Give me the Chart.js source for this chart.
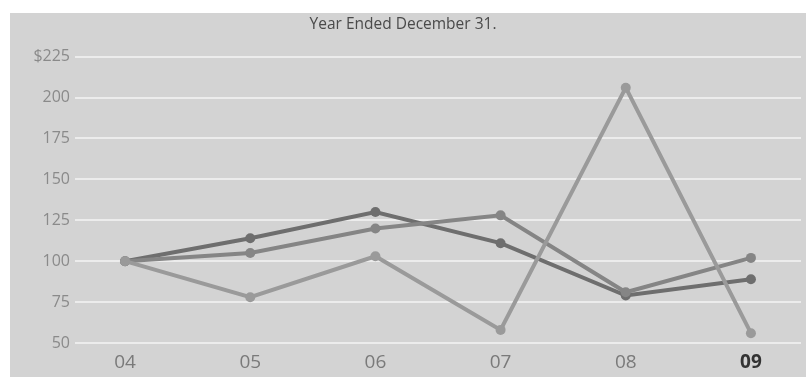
<!DOCTYPE html>
<html>
<head>
<meta charset="utf-8">
<script src="https://cdn.jsdelivr.net/npm/chart.js@4/dist/chart.umd.min.js"></script>
<style>
    body { margin: 0; background: #fff; }
    #bg { position: absolute; left: 10px; top: 13px; width: 796px; height: 364px; background: #d3d3d3; }
    #wrap { position: absolute; left: 0; top: 0; width: 806px; height: 377px; }
</style>
</head>
<body>
<div id="bg"></div>
<div id="wrap"><canvas id="chart"></canvas></div>
<script>
const years = ['04', '05', '06', '07', '08', '09'];
const seriesA = [100, 114, 130, 111, 79, 89];
const seriesB = [100, 105, 120, 128, 81, 102];
const seriesC = [100, 78, 103, 58, 206, 56];
const yTicks = [50, 75, 100, 125, 150, 175, 200, 225];

const toPoints = values => values.map((v, i) => ({ x: i, y: v }));

function lineSet(values, color) {
    return {
        data: toPoints(values),
        borderColor: color,
        backgroundColor: color,
        borderWidth: 4,
        pointRadius: 5,
        pointBorderWidth: 0,
        tension: 0
    };
}

new Chart(document.getElementById('chart'), {
    type: 'line',
    data: {
        datasets: [
            lineSet(seriesC, '#9a9a9a'),
            lineSet(seriesB, '#858585'),
            lineSet(seriesA, '#6e6e6e')
        ]
    },
    options: {
        responsive: true,
        maintainAspectRatio: false,
        animation: false,
        layout: { padding: 0 },
        plugins: {
            legend: { display: false },
            tooltip: { enabled: false },
            title: {
                display: true,
                text: 'Year Ended December 31.',
                color: '#4a4a4a',
                font: { family: 'Open Sans', size: 15.5, weight: 'normal' },
                padding: { top: 15, bottom: 23 }
            }
        },
        scales: {
            x: {
                type: 'linear',
                min: -0.4,
                max: 5.4,
                afterBuildTicks: axis => { axis.ticks = years.map((y, i) => ({ value: i })); },
                afterFit: axis => { axis.height = 34; },
                border: { display: false },
                grid: { display: false, drawTicks: false },
                ticks: {
                    padding: 8,
                    callback: v => years[v],
                    color: ctx => ctx.index === 5 ? '#333' : '#7a7a7a',
                    font: ctx => ({
                        family: 'Open Sans',
                        size: 19,
                        weight: ctx.index === 5 ? 'bold' : 'normal'
                    })
                }
            },
            y: {
                min: 50,
                max: 225,
                afterBuildTicks: axis => { axis.ticks = yTicks.map(v => ({ value: v })); },
                afterFit: axis => { axis.width = 75; },
                border: { display: false },
                grid: { color: '#ececec', lineWidth: 2, drawTicks: false },
                ticks: {
                    padding: 5,
                    color: '#8a8a8a',
                    font: { family: 'Open Sans', size: 16 },
                    callback: v => v === 225 ? '$225' : v
                }
            }
        }
    }
});
</script>
</body>
</html>
